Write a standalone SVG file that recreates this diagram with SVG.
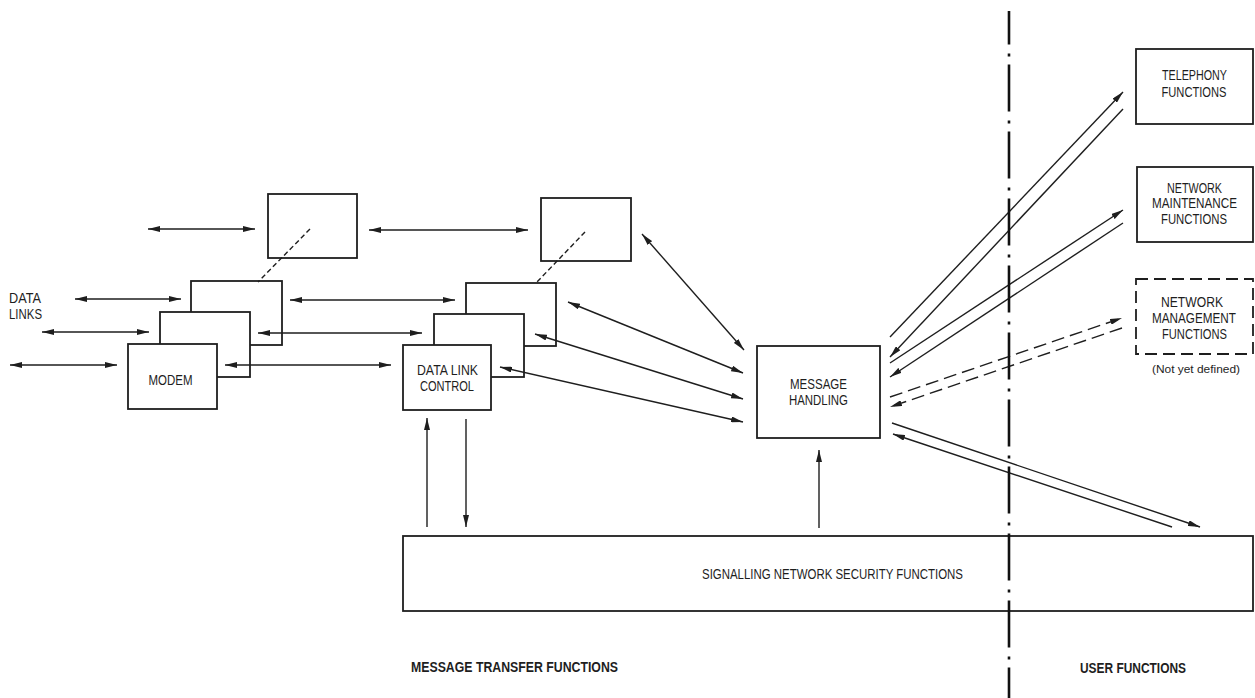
<svg xmlns="http://www.w3.org/2000/svg" width="1255" height="698" viewBox="0 0 1255 698">
<style>
.box{fill:#fff;stroke:#1e1e1e;stroke-width:1.8}
.dbox{fill:#fff;stroke:#1e1e1e;stroke-width:1.8;stroke-dasharray:12 6}
.ln{fill:none;stroke:#1e1e1e;stroke-width:1.4}
.a1{marker-end:url(#ah)}
.a2{marker-start:url(#ah);marker-end:url(#ah)}
.dl{stroke-dasharray:13 6}
.lay{fill:none;stroke:#1e1e1e;stroke-width:1.4;stroke-dasharray:5 3}
.t{font-family:"Liberation Sans Narrow","Liberation Sans",Arial,sans-serif;font-size:14px;fill:#1e1e1e;text-anchor:middle}
.s{font-size:11.5px}
.b{font-weight:bold;font-size:14px}
.div{fill:none;stroke:#111;stroke-width:2.6;stroke-dasharray:47 9 3 8;stroke-dashoffset:13.5}
</style>
<defs>
<marker id="ah" viewBox="0 0 12 6" refX="12" refY="3" markerWidth="12" markerHeight="6" markerUnits="userSpaceOnUse" orient="auto-start-reverse">
<path d="M0,0 L12,3 L0,6 z" fill="#1e1e1e"/>
</marker>
</defs>

<g id="modem-stack">
<rect class="box" x="268" y="194" width="89" height="64"/>
<rect class="box" x="191" y="281" width="91" height="64"/>
<rect class="box" x="160" y="312" width="90" height="65"/>
<g id="modem"><rect class="box" x="128" y="344" width="89" height="65"/>
<text class="t" x="170.5" y="385" textLength="44" lengthAdjust="spacingAndGlyphs">MODEM</text></g>
</g>

<g id="dlc-stack">
<rect class="box" x="541" y="198" width="90" height="63"/>
<rect class="box" x="466" y="283" width="90" height="63"/>
<rect class="box" x="434" y="314" width="90" height="63"/>
<g id="data-link-control"><rect class="box" x="403" y="345" width="88" height="65"/>
<text class="t" x="447.5" y="375" textLength="61" lengthAdjust="spacingAndGlyphs">DATA LINK</text>
<text class="t" x="447" y="391" textLength="54" lengthAdjust="spacingAndGlyphs">CONTROL</text></g>
</g>

<g id="data-links-label">
<text class="t" x="9" y="303" style="text-anchor:start" textLength="32" lengthAdjust="spacingAndGlyphs">DATA</text>
<text class="t" x="9" y="319" style="text-anchor:start" textLength="33" lengthAdjust="spacingAndGlyphs">LINKS</text>
</g>

<g id="message-handling"><rect class="box" x="757" y="346" width="123" height="92"/>
<text class="t" x="818.5" y="389" textLength="57" lengthAdjust="spacingAndGlyphs">MESSAGE</text>
<text class="t" x="818.5" y="405" textLength="59" lengthAdjust="spacingAndGlyphs">HANDLING</text></g>

<g id="telephony"><rect class="box" x="1136" y="49" width="117" height="75"/>
<text class="t" x="1194.5" y="80" textLength="65" lengthAdjust="spacingAndGlyphs">TELEPHONY</text>
<text class="t" x="1194" y="97" textLength="65" lengthAdjust="spacingAndGlyphs">FUNCTIONS</text></g>

<g id="network-maintenance"><rect class="box" x="1137" y="167" width="116" height="75"/>
<text class="t" x="1194.5" y="193" textLength="55" lengthAdjust="spacingAndGlyphs">NETWORK</text>
<text class="t" x="1194.5" y="208" textLength="85" lengthAdjust="spacingAndGlyphs">MAINTENANCE</text>
<text class="t" x="1194" y="224" textLength="66" lengthAdjust="spacingAndGlyphs">FUNCTIONS</text></g>

<g id="network-management"><rect class="dbox" x="1136" y="279" width="117" height="75"/>
<text class="t" x="1192" y="307" textLength="62" lengthAdjust="spacingAndGlyphs">NETWORK</text>
<text class="t" x="1194" y="323" textLength="84" lengthAdjust="spacingAndGlyphs">MANAGEMENT</text>
<text class="t" x="1194.5" y="339" textLength="65" lengthAdjust="spacingAndGlyphs">FUNCTIONS</text>
<text class="t s" x="1196" y="373" textLength="88" lengthAdjust="spacingAndGlyphs">(Not yet defined)</text></g>

<g id="security"><rect class="box" x="403" y="536" width="850" height="75"/>
<text class="t" x="832.5" y="579" textLength="261" lengthAdjust="spacingAndGlyphs">SIGNALLING NETWORK SECURITY FUNCTIONS</text></g>

<g id="connectors">
<path class="ln a2" d="M148,229 H255"/>
<path class="ln a2" d="M75,299 H181"/>
<path class="ln a2" d="M42,332 H149"/>
<path class="ln a2" d="M10,365 H117"/>
<path class="ln a2" d="M369,230 H528"/>
<path class="ln a2" d="M290,300 H455"/>
<path class="ln a2" d="M258,333 H422"/>
<path class="ln a2" d="M225,365 H391"/>
<path class="lay" d="M310,229 L258,282"/>
<path class="lay" d="M585,232 L536,283"/>
<path class="ln a2" d="M642,234 L744,350"/>
<path class="ln a2" d="M568,302 L743,373"/>
<path class="ln a2" d="M535,334 L743,399"/>
<path class="ln a2" d="M500,367 L743,422"/>
<path class="ln a1" d="M427,527 V418"/>
<path class="ln a1" d="M466,419 V527"/>
<path class="ln a1" d="M819,528 V450"/>
<path class="ln a1" d="M890,337 L1123,92"/>
<path class="ln a1" d="M1123,109 L890,357"/>
<path class="ln a1" d="M890,363 L1123,210"/>
<path class="ln a1" d="M1123,223 L890,377"/>
<path class="ln a1 dl" d="M890,397 L1122,318"/>
<path class="ln a1 dl" d="M1122,328 L890,407"/>
<path class="ln a1" d="M892,423 L1200,527"/>
<path class="ln a1" d="M1172,527 L893,434"/>
</g>

<g id="boundary">
<path class="div" d="M1009,11 V698"/>
</g>

<g id="region-labels">
<text class="t b" x="514.5" y="672" textLength="207" lengthAdjust="spacingAndGlyphs">MESSAGE TRANSFER FUNCTIONS</text>
<text class="t b" x="1133" y="673" textLength="106" lengthAdjust="spacingAndGlyphs">USER FUNCTIONS</text>
</g>
</svg>
